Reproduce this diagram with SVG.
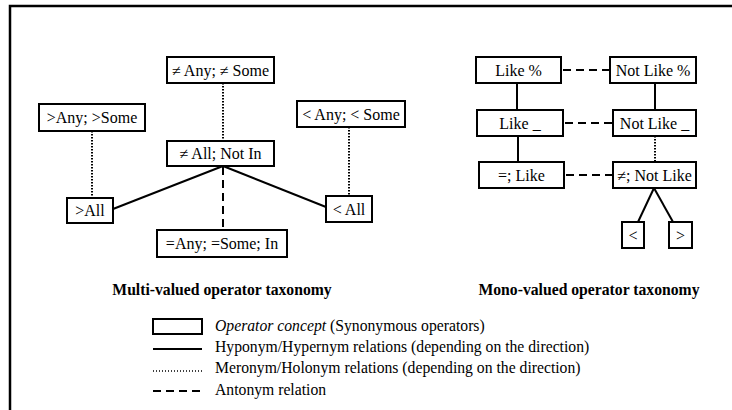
<svg xmlns="http://www.w3.org/2000/svg" width="732" height="410" viewBox="0 0 732 410">
<style>
text{font-family:"Liberation Serif","Times New Roman","DejaVu Serif",serif;font-size:15.7px;fill:#000}
.box rect{fill:#fff;stroke:#000;stroke-width:2}
.box text{text-anchor:middle;font-size:16px}
.solid{stroke:#000;stroke-width:2;fill:none}
.dot{stroke:#000;stroke-width:2;stroke-dasharray:1.5 1.5;fill:none}
.dash{stroke:#000;stroke-width:2;stroke-dasharray:8 5;fill:none}
.title{font-weight:bold;text-anchor:middle}
</style>
<rect width="732" height="410" fill="#fff"/>
<path d="M10 410 V6 H732" fill="none" stroke="#000" stroke-width="2.5"/>
<g id="connectors">
<line class="dot" x1="223" y1="83" x2="223" y2="141"/>
<line class="dot" x1="92" y1="131" x2="92" y2="198"/>
<line class="dot" x1="349" y1="127" x2="349" y2="196"/>
<line class="solid" x1="223" y1="166" x2="113" y2="209"/>
<line class="solid" x1="223" y1="166" x2="326" y2="207"/>
<line class="dash" x1="223" y1="167" x2="223" y2="230"/>
<line class="dash" x1="563" y1="70" x2="610" y2="70"/>
<line class="dash" x1="565" y1="123" x2="613" y2="123"/>
<line class="dash" x1="566" y1="175" x2="613" y2="175"/>
<line class="solid" x1="517" y1="83" x2="517" y2="110"/>
<line class="solid" x1="518" y1="136" x2="518" y2="162"/>
<line class="solid" x1="655" y1="83" x2="655" y2="110"/>
<line class="dot" x1="655" y1="136" x2="655" y2="162"/>
<line class="solid" x1="654" y1="188" x2="638" y2="222"/>
<line class="solid" x1="654" y1="188" x2="673" y2="222"/>
</g>
<g id="n-ne-any" class="box"><rect x="167" y="57" width="107" height="26"/><text x="220.5" y="75.5">≠ Any; ≠ Some</text></g>
<g id="n-gt-any" class="box"><rect x="39" y="104" width="106" height="27"/><text x="92" y="123">&gt;Any; &gt;Some</text></g>
<g id="n-lt-any" class="box"><rect x="297" y="101" width="108" height="26"/><text x="351" y="119.5">&lt; Any; &lt; Some</text></g>
<g id="n-ne-all" class="box"><rect x="167" y="141" width="107" height="25"/><text x="220.5" y="159">≠ All; Not In</text></g>
<g id="n-gt-all" class="box"><rect x="67" y="198" width="46" height="25"/><text x="90" y="216">&gt;All</text></g>
<g id="n-lt-all" class="box"><rect x="326" y="196" width="46" height="26"/><text x="349" y="214.5">&lt; All</text></g>
<g id="n-eq-any" class="box"><rect x="157" y="230" width="130" height="27"/><text x="222" y="249">=Any; =Some; In</text></g>
<g id="n-like-pct" class="box"><rect x="476" y="57" width="85" height="26"/><text x="518.5" y="75.5">Like %</text></g>
<g id="n-notlike-pct" class="box"><rect x="610" y="57" width="86" height="26"/><text x="653" y="75.5">Not Like %</text></g>
<g id="n-like-us" class="box"><rect x="477" y="110" width="86" height="26"/><text x="520" y="128.5">Like _</text></g>
<g id="n-notlike-us" class="box"><rect x="613" y="110" width="83" height="26"/><text x="654.5" y="128.5">Not Like _</text></g>
<g id="n-eq-like" class="box"><rect x="479" y="162" width="85" height="26"/><text x="521.5" y="180.5">=; Like</text></g>
<g id="n-ne-notlike" class="box"><rect x="613" y="162" width="83" height="26"/><text x="654.5" y="180.5">≠; Not Like</text></g>
<g id="n-lt" class="box"><rect x="622" y="222" width="22" height="26"/><text x="633" y="240.5">&lt;</text></g>
<g id="n-gt" class="box"><rect x="669" y="222" width="23" height="26"/><text x="680.5" y="240.5">&gt;</text></g>
<text class="title" x="222" y="295">Multi-valued operator taxonomy</text>
<text class="title" x="589" y="295">Mono-valued operator taxonomy</text>
<g id="legend">
<rect x="153" y="319" width="49" height="15" fill="#fff" stroke="#000" stroke-width="2"/>
<text x="215" y="331"><tspan font-style="italic">Operator concept</tspan> (Synonymous operators)</text>
<line class="solid" x1="153" y1="349" x2="202" y2="349"/>
<text x="215" y="352">Hyponym/Hypernym relations (depending on the direction)</text>
<line stroke="#000" stroke-width="1.5" stroke-dasharray="1 2" x1="153" y1="371" x2="202" y2="371"/>
<text x="215" y="373">Meronym/Holonym relations (depending on the direction)</text>
<line class="dash" x1="153" y1="391" x2="202" y2="391"/>
<text x="215" y="395">Antonym relation</text>
</g>
</svg>
